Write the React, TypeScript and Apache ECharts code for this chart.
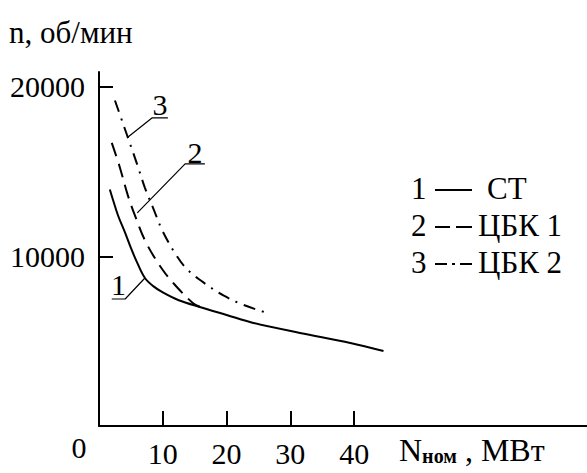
import { useEffect, useRef } from "react";
import * as echarts from "echarts";

const FONT = "Liberation Serif";

// Curve 1 — СТ (solid)
const stPower = [1.7, 2.2, 3, 4.1, 5, 6, 7.2, 8.5, 10, 12.5, 15.8, 20, 24.2, 31.5, 39.4, 44.6];
const stSpeed = [13950, 13330, 12400, 11390, 10500, 9620, 8730, 8250, 7880, 7420, 7020, 6550, 6080, 5490, 4900, 4420];

// Curve 2 — ЦБК 1 (dashed)
const cbk1Power = [2, 3.2, 4.5, 5.6, 7.4, 10, 12.2, 14.7, 15.8];
const cbk1Speed = [16700, 15340, 13630, 12450, 10800, 9200, 8200, 7260, 7030];

// Curve 3 — ЦБК 2 (dash-dot)
const cbk2Power = [2.5, 3.8, 5, 6.1, 7.2, 8.6, 9.9, 11.9, 13.8, 16.8, 19.5, 22.6, 26.5];
const cbk2Speed = [19200, 17800, 16500, 15300, 14050, 12750, 11550, 10200, 9250, 8350, 7700, 7150, 6650];

// Curve number callouts: leader from curve point to underline (data coordinates)
const calloutNames = ["1", "2", "3"];
const calloutCurvePt = [[7.2, 8730], [6.0, 12570], [4.55, 17050]];
const calloutUnderStart = [[4.1, 7490], [13.5, 15460], [8.3, 18170]];
const calloutUnderEnd = [[2.0, 7490], [16.6, 15460], [10.8, 18170]];
const calloutTextPt = [[3.05, 8350], [15.05, 16150], [9.55, 18950]];

const xTickValues = [10, 20, 30, 40];
const yTickValues = [10000, 20000];

const legendNums = ["1", "2", "3"];
const legendNames = ["СТ", "ЦБК 1", "ЦБК 2"];

const zip = (a: number[], b: number[]) => a.map((v, i) => [v, b[i]]);

export default function App() {
  const ref = useRef<HTMLDivElement>(null);
  useEffect(() => {
    if (!ref.current) return;
    const chart = echarts.init(ref.current, null, { renderer: "svg" });
    const black = "#000";
    const txt = (text: string, x: number, y: number, align = "left", size = 30) => ({
      type: "text",
      x,
      y,
      style: { text, fontSize: size, fontFamily: FONT, fill: black, align, verticalAlign: "middle" },
    });

    const calloutSeries = calloutNames.map((n, i) => ({
      type: "line",
      silent: true,
      symbol: "none",
      data: [calloutCurvePt[i], calloutUnderStart[i], calloutUnderEnd[i]],
      lineStyle: { color: black, width: 1.2 },
      z: 3,
    }));

    const legendY = [188, 225, 262];
    const legendGraphics: any[] = [];
    legendNums.forEach((n, i) => {
      legendGraphics.push(txt(n, 411, legendY[i], "left", 31));
      legendGraphics.push(txt(legendNames[i], i === 0 ? 487 : 478, legendY[i], "left", 31));
    });
    const ls = { stroke: black, lineWidth: 2 };
    legendGraphics.push({ type: "line", shape: { x1: 435, y1: 190, x2: 472, y2: 190 }, style: ls });
    legendGraphics.push({ type: "line", shape: { x1: 435, y1: 227, x2: 450, y2: 227 }, style: ls });
    legendGraphics.push({ type: "line", shape: { x1: 456, y1: 227, x2: 472, y2: 227 }, style: ls });
    legendGraphics.push({ type: "line", shape: { x1: 435, y1: 264, x2: 447, y2: 264 }, style: ls });
    legendGraphics.push({ type: "line", shape: { x1: 452, y1: 264, x2: 455, y2: 264 }, style: ls });
    legendGraphics.push({ type: "line", shape: { x1: 460, y1: 264, x2: 472, y2: 264 }, style: ls });

    const axisLabelStyle = { color: black, fontSize: 30, fontFamily: FONT, fontWeight: "normal" };

    chart.setOption({
      animation: false,
      textStyle: { fontFamily: FONT, color: black },
      grid: { left: 99, right: 0, top: 72, bottom: 47, containLabel: false },
      xAxis: {
        type: "value",
        min: 0,
        max: 76.5,
        axisLine: { show: true, lineStyle: { color: black, width: 2 } },
        axisTick: { show: true, inside: true, length: 15, customValues: xTickValues, lineStyle: { color: black, width: 2 } },
        axisLabel: { ...axisLabelStyle, customValues: xTickValues, margin: 12, formatter: (v: number) => String(v) },
        splitLine: { show: false },
      },
      yAxis: {
        type: "value",
        min: 0,
        max: 20880,
        axisLine: { show: true, lineStyle: { color: black, width: 2 } },
        axisTick: { show: true, inside: true, length: 14, customValues: yTickValues, lineStyle: { color: black, width: 2 } },
        axisLabel: { ...axisLabelStyle, customValues: yTickValues, margin: 14, padding: [0, 0, 8, 0], formatter: (v: number) => String(v) },
        splitLine: { show: false },
      },
      series: [
        {
          name: "СТ",
          type: "line",
          smooth: 0.35,
          symbol: "none",
          data: zip(stPower, stSpeed),
          lineStyle: { color: black, width: 2 },
        },
        {
          name: "ЦБК 1",
          type: "line",
          smooth: 0.35,
          symbol: "none",
          data: zip(cbk1Power, cbk1Speed),
          lineStyle: { color: black, width: 2, type: [14, 8] },
        },
        {
          name: "ЦБК 2",
          type: "line",
          smooth: 0.35,
          symbol: "none",
          data: zip(cbk2Power, cbk2Speed),
          lineStyle: { color: black, width: 2, type: [12, 7, 2, 7] },
        },
        ...calloutSeries,
        {
          type: "scatter",
          silent: true,
          symbolSize: 0,
          itemStyle: { opacity: 1, color: "rgba(0,0,0,0)" },
          data: calloutTextPt.map((p, i) => [p[0], p[1], calloutNames[i]]),
          label: {
            show: true,
            position: "inside",
            formatter: (p: any) => p.data[2],
            color: black,
            textBorderWidth: 0,
            fontSize: 30,
            fontFamily: FONT,
          },
        },
      ],
      graphic: [
        txt("n, об/мин", 9, 32, "left", 31),
        txt("0", 79, 447, "center"),
        {
          type: "text",
          x: 399,
          y: 450,
          style: {
            text: "{a|N}{b|ном}{a| , МВт}",
            fontFamily: FONT,
            fill: black,
            verticalAlign: "middle",
            rich: {
              a: { fontSize: 32, fontFamily: FONT, fill: black, lineHeight: 32 },
              b: { fontSize: 20, fontFamily: FONT, fontWeight: "bold", fill: black, verticalAlign: "bottom", lineHeight: 32 },
            },
          },
        },
        ...legendGraphics,
      ],
    });
    return () => chart.dispose();
  }, []);
  return <div ref={ref} style={{ position: "absolute", left: 0, top: 0, width: 587, height: 473, background: "#fff" }} />;
}
